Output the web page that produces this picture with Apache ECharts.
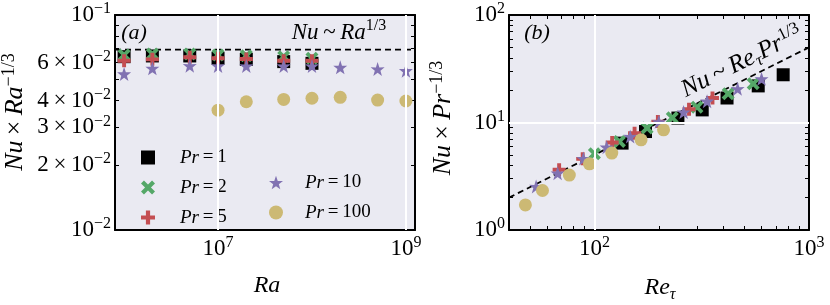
<!DOCTYPE html>
<html><head><meta charset="utf-8">
<script src="https://cdn.jsdelivr.net/npm/echarts@6/dist/echarts.min.js"></script>
<style>html,body{margin:0;padding:0;background:#fff}#c{width:830px;height:305px}</style>
</head><body><div id="c"></div>
<script>
// ---------- Panel (a): Nu*Ra^-1/3 vs Ra ----------
const raValues = [1e6, 2e6, 5e6, 1e7, 2e7, 5e7, 1e8, 2e8, 5e8, 1e9];
const nuRaPr1 = [0.0640, 0.0645, 0.0645, 0.0629, 0.0622, 0.0607, 0.0596];
const nuRaPr2 = [0.0652, 0.0659, 0.0659, 0.0652, 0.0647, 0.0640, 0.0629];
const nuRaPr5 = [0.0613, 0.0622, 0.0636, 0.0629, 0.0624, 0.0613, 0.0613];
const nuRaPr10 = [0.0532, 0.0565, 0.0581, 0.0579, 0.0579, 0.0579, 0.0579, 0.0571, 0.0561, 0.0551];
const raPr100 = [1e7, 2e7, 5e7, 1e8, 2e8, 5e8, 1e9];
const nuRaPr100 = [0.0361, 0.0395, 0.0405, 0.0410, 0.0414, 0.0402, 0.0398];
const fitA = 0.069;
const raRange = [8e5, 1.25e9];
const nuRaRange = [0.01, 0.1];
const raTickLabels = [1e7, 1e9];
const raTicks = [1e7, 1e9];
const nuRaTickLabels = [0.01, 0.02, 0.03, 0.04, 0.06, 0.1];
const nuRaTicks = [0.01, 0.02, 0.03, 0.04, 0.05, 0.06, 0.07, 0.08, 0.09, 0.1];
const gridA_x = [1e7, 1e9];

// ---------- Panel (b): Nu*Pr^-1/3 vs Re_tau ----------
const rePr1 = [134.6, 173, 245, 318, 415, 580, 758];
const nuPr1 = [6.43, 8.24, 11.0, 13.1, 16.9, 21.9, 27.8];
const rePr2 = [100, 130.8, 176, 230.6, 300.5, 420, 549.5];
const nuPr2 = [5.12, 6.65, 8.87, 11.06, 13.9, 18.5, 22.9];
const rePr5 = [68.5, 88.2, 121, 153.9, 197.6, 276, 355];
const nuPr5 = [3.63, 4.59, 6.52, 7.96, 10.2, 13.3, 16.9];
const rePr10 = [53.5, 67.4, 88.9, 114, 146.8, 199.7, 260.5, 335, 465, 601];
const nuPr10 = [2.54, 3.38, 4.62, 5.90, 7.41, 10.15, 12.5, 15.8, 20.6, 25.5];
const rePr100 = [47.7, 57.3, 76.4, 94.8, 120.5, 165, 210];
const nuPr100 = [1.71, 2.33, 3.24, 4.13, 5.19, 6.90, 8.55];
const fitRe = [40, 1000];
const fitNu = [2, 50];
const reRange = [40, 1000];
const nuRange = [1, 100];
const reTickLabels = [100, 1000];
const reTicks = [50, 60, 70, 80, 90, 100, 200, 300, 400, 500, 600, 700, 800, 900, 1000];
const nuTickLabels = [1, 10, 100];
const nuTicks = [1, 2, 3, 4, 5, 6, 7, 8, 9, 10, 20, 30, 40, 50, 60, 70, 80, 90, 100];
const gridB_x = [100];
const gridB_y = [10];

const prNames = ['Pr=1', 'Pr=2', 'Pr=5', 'Pr=10', 'Pr=100'];
const colors = ['#000000', '#55A868', '#C44E52', '#8172B2', '#CCB974'];

// ---------- helpers ----------
const FF = "'Liberation Serif','DejaVu Serif',serif";
const L = v => Math.round(Math.log10(v) * 1e9) / 1e9;
const zip = (xs, ys) => ys.map((y, i) => [L(xs[i]), L(y)]);

const PLUS = 'path://M3.5,0H6.5V3.5H10V6.5H6.5V10H3.5V6.5H0V3.5H3.5Z';
const CROSS = 'path://M0,2.1L2.1,0L5,2.9L7.9,0L10,2.1L7.1,5L10,7.9L7.9,10L5,7.1L2.1,10L0,7.9L2.9,5Z';
const STAR = 'path://M50,0L61.8,35.1L97.6,34.5L69.1,56.7L79.4,90.5L50,70L20.6,90.5L30.9,56.7L2.4,34.5L38.2,35.1Z';
const symbols = ['rect', CROSS, PLUS, STAR, 'circle'];
const sizes = [13, 13, 13, 14, 13];

function fmtPow(val) {
  const e = Math.floor(val + 1e-6);
  const m = Math.round(Math.pow(10, val - e));
  const es = (e < 0 ? '\u2212' : '') + Math.abs(e);
  return (m === 1 ? '' : '{n|' + m + '\u2009\u00d7\u2009}') + '{n|10}{s|' + es + '}';
}
const labelRich = {
  n: {fontFamily: FF, fontSize: 23, color: '#000', lineHeight: 28, verticalAlign: 'middle'},
  s: {fontFamily: FF, fontSize: 16, color: '#000', lineHeight: 16, verticalAlign: 'top'}
};

function mkAxis(gridIndex, position, range, ticks, labels) {
  const showLabel = !!labels;
  return {
    type: 'value', gridIndex, position,
    min: L(range[0]), max: L(range[1]),
    axisLine: {show: true, onZero: false, lineStyle: {color: '#000', width: 2}},
    axisTick: {show: true, inside: true, length: 4, customValues: ticks.map(L), lineStyle: {color: '#000', width: 1}},
    axisLabel: showLabel ? {
      show: true, customValues: labels.map(L), formatter: fmtPow, rich: labelRich,
      margin: (position === 'left' ? 4 : 5), showMinLabel: true, showMaxLabel: true, hideOverlap: false
    } : {show: false},
    splitLine: {show: false},
    minorTick: {show: false}
  };
}

const xAxis = [
  mkAxis(0, 'bottom', raRange, raTicks, raTickLabels),
  mkAxis(0, 'top', raRange, raTicks, null),
  mkAxis(1, 'bottom', reRange, reTicks, reTickLabels),
  mkAxis(1, 'top', reRange, reTicks, null)
];
const yAxis = [
  mkAxis(0, 'left', nuRaRange, nuRaTicks, nuRaTickLabels),
  mkAxis(0, 'right', nuRaRange, nuRaTicks, null),
  mkAxis(1, 'left', nuRange, nuTicks, nuTickLabels),
  mkAxis(1, 'right', nuRange, nuTicks, null)
];

const series = [];
// grid lines (white)
series.push({
  type: 'line', xAxisIndex: 0, yAxisIndex: 0, data: [], z: 1, silent: true,
  markLine: {silent: true, symbol: 'none', label: {show: false}, animation: false,
    lineStyle: {color: '#ffffff', width: 2, type: 'solid'},
    data: gridA_x.map(v => ({xAxis: L(v)}))}
});
series.push({
  type: 'line', xAxisIndex: 2, yAxisIndex: 2, data: [], z: 1, silent: true,
  markLine: {silent: true, symbol: 'none', label: {show: false}, animation: false,
    lineStyle: {color: '#ffffff', width: 2, type: 'solid'},
    data: gridB_x.map(v => ({xAxis: L(v)})).concat(gridB_y.map(v => ({yAxis: L(v)})))}
});
// fit lines
series.push({
  type: 'line', xAxisIndex: 0, yAxisIndex: 0, z: 1.5, silent: true, symbol: 'none',
  data: [[L(raRange[0]), L(fitA)], [L(raRange[1]), L(fitA)]],
  lineStyle: {color: '#000', width: 1.8, type: [6, 4]}
});
series.push({
  type: 'line', xAxisIndex: 2, yAxisIndex: 2, z: 1.5, silent: true, symbol: 'none',
  data: zip(fitRe, fitNu),
  lineStyle: {color: '#000', width: 1.8, type: [6, 4]}
});

const dataA = [
  zip(raValues.slice(0, 7), nuRaPr1),
  zip(raValues.slice(0, 7), nuRaPr2),
  zip(raValues.slice(0, 7), nuRaPr5),
  zip(raValues, nuRaPr10),
  zip(raPr100, nuRaPr100)
];
const dataB = [
  zip(rePr1, nuPr1), zip(rePr2, nuPr2), zip(rePr5, nuPr5), zip(rePr10, nuPr10), zip(rePr100, nuPr100)
];
prNames.forEach((name, i) => {
  series.push({
    name, type: 'scatter', xAxisIndex: 0, yAxisIndex: 0, z: 2,
    symbol: symbols[i], symbolSize: sizes[i], data: dataA[i],
    itemStyle: {color: colors[i], opacity: 1}
  });
});
prNames.forEach((name, i) => {
  series.push({
    name, type: 'scatter', xAxisIndex: 2, yAxisIndex: 2, z: 2,
    symbol: symbols[i], symbolSize: sizes[i], data: dataB[i],
    itemStyle: {color: colors[i], opacity: 1}
  });
});

function legendOpt(data, left, top, pad) {
  return {
    data, orient: 'vertical', left, top, itemWidth: 14, itemHeight: 14, itemGap: 11,
    selectedMode: false, padding: 0,
    formatter: name => '{p| }{i|Pr}{r|\u2009=\u2009' + name.split('=')[1] + '}',
    textStyle: {
      rich: {
        p: {width: pad, lineHeight: 14},
        i: {fontFamily: FF, fontStyle: 'italic', fontSize: 19, color: '#000', lineHeight: 14},
        r: {fontFamily: FF, fontSize: 19, color: '#000', lineHeight: 14}
      }
    }
  };
}

// text styles for graphic (zrender: fill)
const gRich = F => ({
  i: {fontFamily: FF, fontStyle: 'italic', fontSize: F, fill: '#000', lineHeight: 30, verticalAlign: 'middle'},
  r: {fontFamily: FF, fontSize: F, fill: '#000', lineHeight: 30, verticalAlign: 'middle'},
  s: {fontFamily: FF, fontSize: Math.round(F * 0.68), fill: '#000', lineHeight: 15, verticalAlign: 'top'},
  b: {fontFamily: FF, fontStyle: 'italic', fontSize: Math.round(F * 0.68), fill: '#000', lineHeight: 20, verticalAlign: 'bottom'}
});
function gText(x, y, text, F, rotation) {
  return {
    type: 'text', x, y, rotation: rotation || 0, silent: true, z: 10,
    style: {text, rich: gRich(F), align: 'center', verticalAlign: 'middle', fill: '#000'}
  };
}

const option = {
  animation: false,
  backgroundColor: '#ffffff',
  grid: [
    {left: 115, top: 15, width: 300, height: 215, show: true, backgroundColor: '#EAEAF2', borderWidth: 0},
    {left: 509, top: 15, width: 300, height: 215, show: true, backgroundColor: '#EAEAF2', borderWidth: 0}
  ],
  xAxis, yAxis, series,
  legend: [
    legendOpt(['Pr=1', 'Pr=2', 'Pr=5'], 141, 148, 20),
    legendOpt(['Pr=10', 'Pr=100'], 269, 173, 17)
  ],
  graphic: [
    gText(134, 33, '{i|(a)}', 22),
    gText(339, 33, '{i|Nu}{r|\u2009~\u2009}{i|Ra}{s|1/3}', 23),
    gText(537, 33, '{i|(b)}', 22),
    gText(742, 62, '{i|Nu}{r|\u2009~\u2009}{i|Re}{b|\u03c4}{i|Pr}{s|1/3}', 25, 0.46),
    gText(267, 286, '{i|Ra}', 24),
    gText(660, 288, '{i|Re}{b|\u03c4}', 24),
    gText(15, 112, '{i|Nu}{r|\u2009\u00d7\u2009}{i|Ra}{s|\u22121/3}', 26, Math.PI / 2),
    gText(443, 118, '{i|Nu}{r|\u2009\u00d7\u2009}{i|Pr}{s|\u22121/3}', 26, Math.PI / 2)
  ]
};
const chart = echarts.init(document.getElementById('c'), null, {renderer: 'canvas'});
chart.setOption(option);
</script>
</body></html>
